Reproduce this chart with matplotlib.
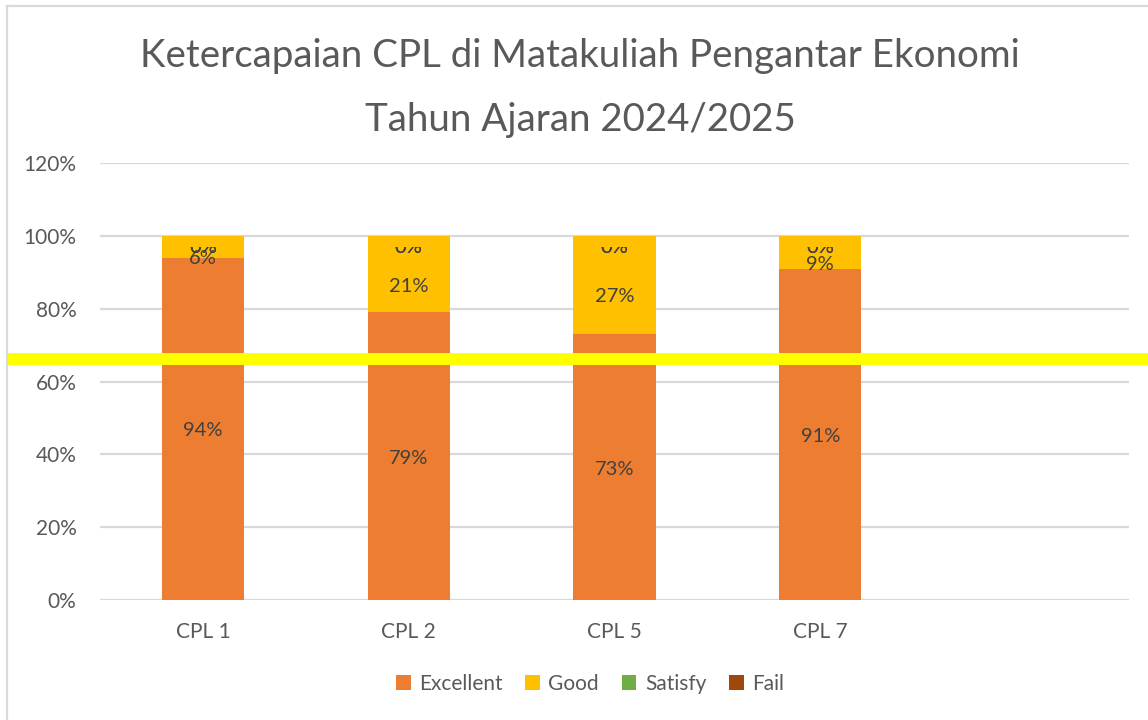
import matplotlib
matplotlib.use("Agg")
import matplotlib.pyplot as plt
from matplotlib.patches import Patch
from matplotlib.lines import Line2D
from matplotlib.transforms import blended_transform_factory, Bbox, TransformedBbox

# ---- data ----
categories = ["CPL 1", "CPL 2", "CPL 5", "CPL 7", ""]
excellent = [0.94, 0.79, 0.73, 0.91]
good = [0.06, 0.21, 0.27, 0.09]
satisfy = [0.0, 0.0, 0.0, 0.0]
fail = [0.0, 0.0, 0.0, 0.0]
series_names = ["Excellent", "Good", "Satisfy", "Fail"]
series_colors = ["#ED7D31", "#FFC000", "#70AD47", "#9E480E"]
yticks = [0.0, 0.2, 0.4, 0.6, 0.8, 1.0, 1.2]
threshold = 0.662
title_line1 = "Ketercapaian CPL di Matakuliah Pengantar Ekonomi"
title_line2 = "Tahun Ajaran 2024/2025"

plt.rcParams["font.family"] = ["Lato", "DejaVu Sans"]

W, H = 1148, 720
fig = plt.figure(figsize=(W / 100, H / 100), dpi=100)
fig.patch.set_facecolor("white")

ax = fig.add_axes([100 / W, 1 - 600 / H, (1129 - 100) / W, (600 - 163) / H])
ax.set_xlim(-0.5, len(categories) - 0.5)
ax.set_ylim(0, 1.2)

grid_col = "#D9D9D9"
for t in yticks:
    ax.axhline(t, color=grid_col, lw=1.6, zorder=0)

for s in ax.spines.values():
    s.set_visible(False)

n = len(excellent)
xs = list(range(n))
bw = 0.40
data = [excellent, good, satisfy, fail]
bottoms = [0.0] * n
label_col = "#404040"
clip = TransformedBbox(Bbox([[-1, -1], [10, 0.970]]), ax.transData)
for si, (vals, col) in enumerate(zip(data, series_colors)):
    ax.bar(xs, vals, bw, bottom=bottoms, color=col, zorder=2)
    for i in range(n):
        cy = bottoms[i] + vals[i] / 2
        lab = f"{round(vals[i] * 100):.0f}%"
        if si == 0:
            ax.annotate(lab, (xs[i], cy), xytext=(0, -2), textcoords="offset pixels",
                        ha="center", va="center", fontsize=14.5, color=label_col, zorder=4)
        else:
            t = ax.annotate(lab, (xs[i], cy), xytext=(0, -12), textcoords="offset pixels",
                            ha="center", va="center", fontsize=14.5, color=label_col, zorder=4)
            if vals[i] == 0:
                t.set_clip_box(clip)
                t.set_clip_on(True)
    bottoms = [b + v for b, v in zip(bottoms, vals)]

ax.set_yticks(yticks)
ax.set_yticklabels([f"{round(t * 100)}%" for t in yticks])
ax.set_xticks(range(len(categories)))
ax.set_xticklabels(categories)
ax.tick_params(axis="y", length=0, pad=17, labelsize=15, labelcolor="#595959")
ax.tick_params(axis="x", length=0, pad=16, labelsize=15, labelcolor="#595959")

# threshold line across the figure
tr = blended_transform_factory(fig.transFigure, ax.transData)
ax.add_line(Line2D([7 / W, 1.0], [threshold, threshold], transform=tr, color="#FFFF00",
                   lw=8.6, solid_capstyle="butt", zorder=6, clip_on=False))

# chart border (top and left)
fig.add_artist(Line2D([7 / W, 1.0], [1 - 6 / H, 1 - 6 / H], transform=fig.transFigure,
                      color=grid_col, lw=1.6))
fig.add_artist(Line2D([7 / W, 7 / W], [0, 1 - 6 / H], transform=fig.transFigure,
                      color=grid_col, lw=1.6))

# title
fig.text(580 / W, 1 - 66.7 / H, title_line1, ha="center", va="baseline",
         fontsize=27.7, color="#595959", fontweight="normal")
fig.text(580 / W, 1 - 130.5 / H, title_line2, ha="center", va="baseline",
         fontsize=27.7, color="#595959", fontweight="normal")

handles = [Patch(facecolor=c, edgecolor="none") for c in series_colors]
leg = fig.legend(handles, series_names, loc="center", bbox_to_anchor=(590 / W, 1 - 684 / H),
                 ncol=4, frameon=False, fontsize=15, handlelength=0.7, handleheight=0.7,
                 handletextpad=0.4, columnspacing=1.1, labelcolor="#595959")

fig.savefig("out.png", dpi=100, facecolor="white")
